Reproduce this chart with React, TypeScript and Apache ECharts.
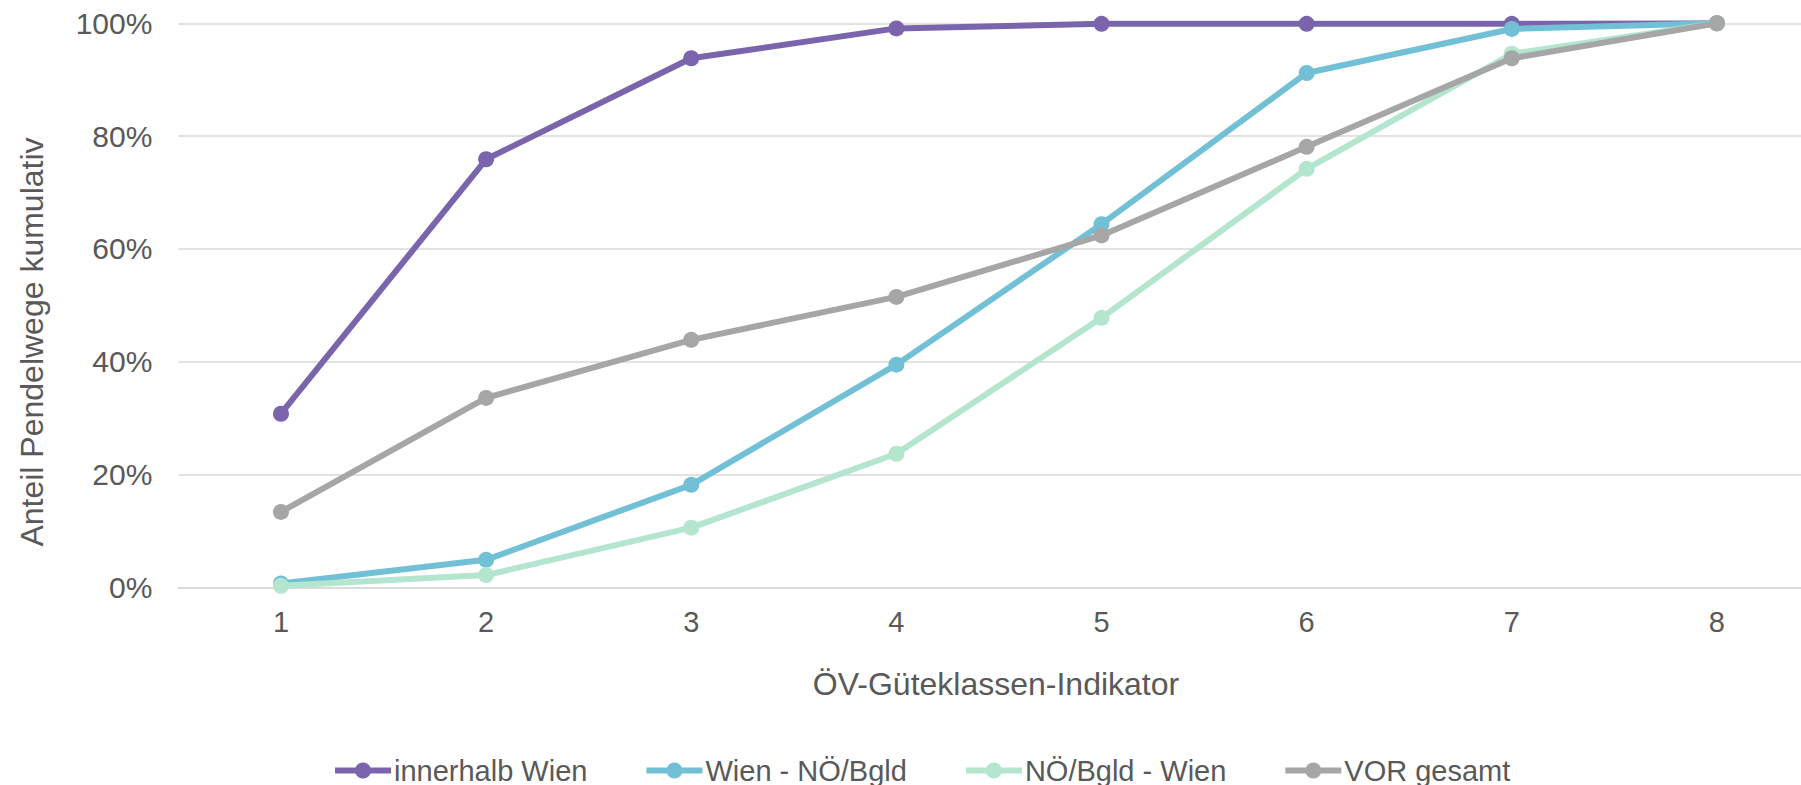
import React, { useEffect, useRef } from 'react';
import * as echarts from 'echarts';

const categories = ['1', '2', '3', '4', '5', '6', '7', '8'];
const innerhalbWien = [30.8, 75.9, 93.8, 99.1, 99.9, 99.9, 99.9, 100];
const wienNoeBgld = [0.7, 4.9, 18.2, 39.5, 64.4, 91.2, 99.0, 100];
const noeBgldWien = [0.3, 2.2, 10.6, 23.7, 47.8, 74.2, 94.6, 100];
const vorGesamt = [13.4, 33.6, 43.9, 51.5, 62.4, 78.1, 93.8, 100];
const seriesNames = ['innerhalb Wien', 'Wien - NÖ/Bgld', 'NÖ/Bgld - Wien', 'VOR gesamt'];
const seriesColors = ['#7A65AD', '#72C0D6', '#B4E5CF', '#A6A6A6'];
const xTitle = 'ÖV-Güteklassen-Indikator';
const yTitle = 'Anteil Pendelwege kumulativ';

const FONT = 'Arial, "Liberation Sans", Helvetica, sans-serif';
const TEXT = '#595959';

export default function App() {
  const ref = useRef<HTMLDivElement>(null);
  useEffect(() => {
    document.body.style.margin = '0';
    if (!ref.current) return;
    const chart = echarts.init(ref.current, null, { renderer: 'svg' });
    const data = [innerhalbWien, wienNoeBgld, noeBgldWien, vorGesamt];
    chart.setOption({
      animation: false,
      backgroundColor: '#ffffff',
      textStyle: { fontFamily: FONT },
      grid: {
        left: 178.4,
        right: -18.5,
        top: 23.3,
        bottom: 197.5,
        containLabel: false,
        outerBoundsMode: 'none',
      },
      legend: {
        data: seriesNames,
        left: 327,
        top: 751,
        itemWidth: 56,
        itemHeight: 20,
        itemGap: 56,
        lineStyle: { width: 6 },
        textStyle: { fontFamily: FONT, fontSize: 29, color: TEXT, padding: [0, 0, 0, -2] },
      },
      xAxis: {
        type: 'category',
        data: categories,
        boundaryGap: true,
        axisLine: { show: true, lineStyle: { color: '#d9d9d9', width: 1.5 } },
        axisTick: { show: false },
        axisLabel: { fontFamily: FONT, fontSize: 29, color: TEXT, margin: 20 },
        splitLine: { show: false },
      },
      yAxis: {
        type: 'value',
        min: 0,
        max: 100,
        interval: 20,
        axisLine: { show: false },
        axisTick: { show: false },
        axisLabel: { fontFamily: FONT, fontSize: 30, color: TEXT, margin: 26, formatter: '{value}%' },
        splitLine: { show: true, lineStyle: { color: '#d9d9d9', width: 1.5 } },
      },
      graphic: [
        {
          type: 'text',
          x: 996,
          y: 684,
          style: {
            text: xTitle,
            fontFamily: FONT,
            fontSize: 32,
            fill: TEXT,
            textAlign: 'center',
            textVerticalAlign: 'middle',
          },
        },
        {
          type: 'text',
          x: 32,
          y: 342,
          rotation: Math.PI / 2,
          style: {
            text: yTitle,
            fontFamily: FONT,
            fontSize: 32,
            fill: TEXT,
            textAlign: 'center',
            textVerticalAlign: 'middle',
          },
        },
      ],
      series: seriesNames.map((name, i) => ({
        name,
        type: 'line',
        data: data[i],
        symbol: 'circle',
        symbolSize: 16,
        showSymbol: true,
        color: seriesColors[i],
        itemStyle: { color: seriesColors[i] },
        lineStyle: { color: seriesColors[i], width: 6 },
        z: 2 + i,
      })),
    });
    return () => chart.dispose();
  }, []);
  return (
    <div
      ref={ref}
      style={{ width: 1801, height: 785, position: 'absolute', left: 0, top: 0 }}
    />
  );
}
